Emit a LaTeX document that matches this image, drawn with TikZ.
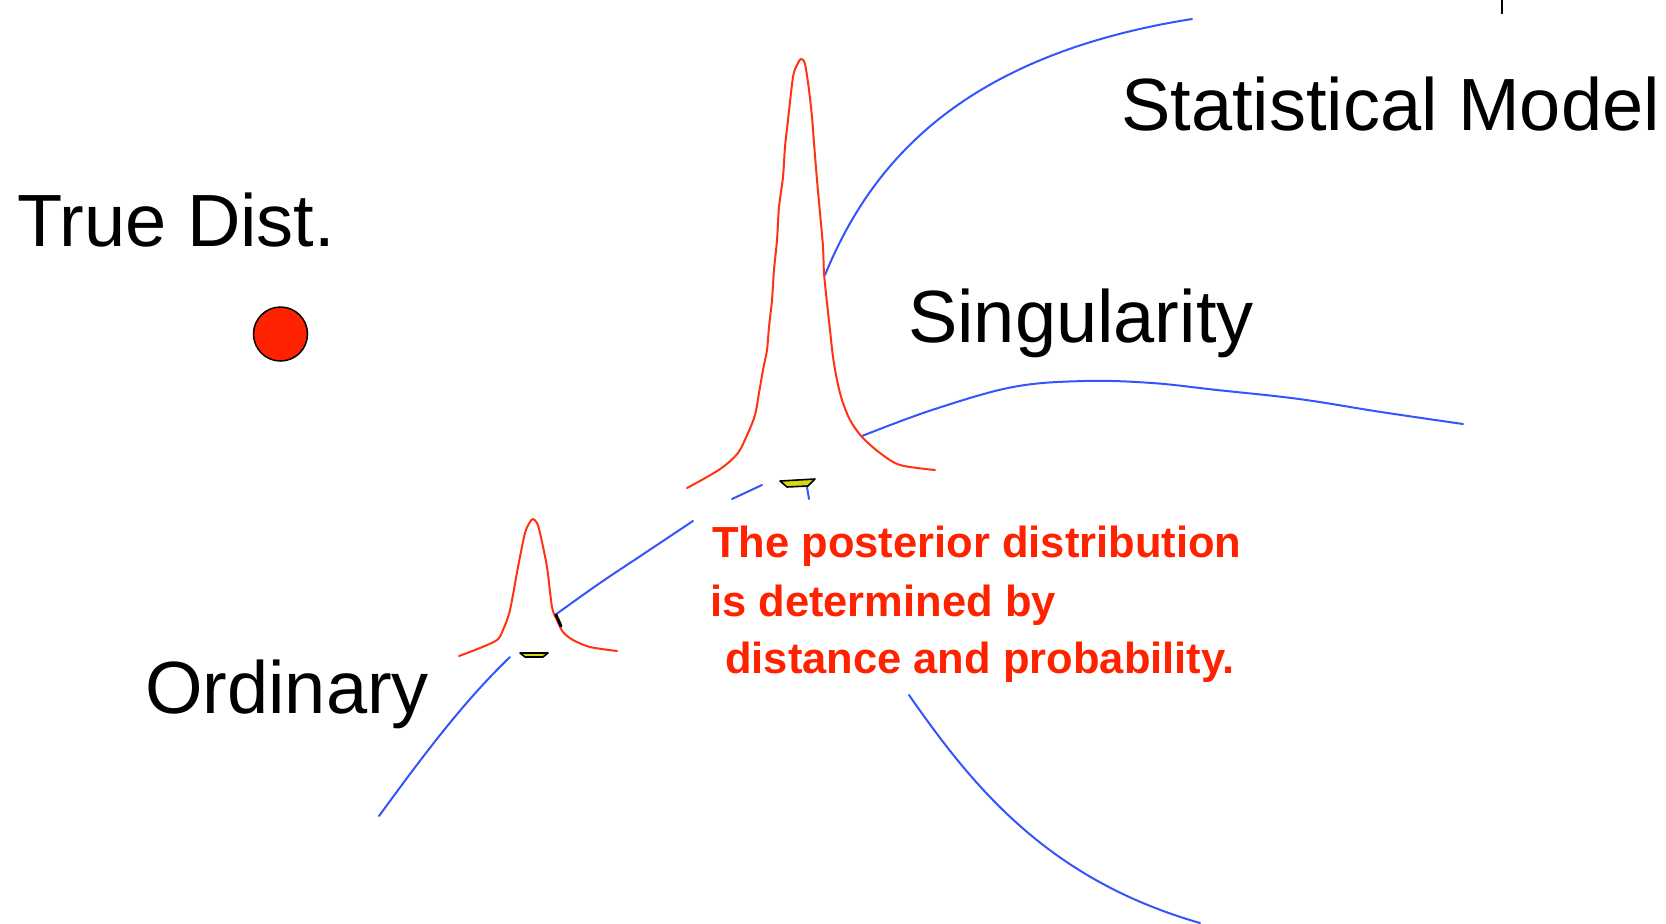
\documentclass[tikz,border=0pt]{standalone}
\usepackage{fontspec}
\setmainfont{Liberation Sans}
\definecolor{cblue}{RGB}{51,85,255}
\definecolor{cred}{RGB}{255,51,17}
\definecolor{tred}{RGB}{255,34,0}
\definecolor{cyel}{RGB}{214,214,20}
\begin{document}
\begin{tikzpicture}[x=1pt,y=-1pt,
  bluecurve/.style={draw=cblue, line width=2pt, line cap=round, line join=round},
  redcurve/.style={draw=cred, line width=2pt, line cap=round, line join=round},
  biglabel/.style={font=\fontsize{74}{88}\selectfont, anchor=base west, inner sep=0pt},
  redtext/.style={font=\fontsize{43.5}{58}\selectfont\bfseries, text=tred, anchor=base west, inner sep=0pt},
  bowl/.style={fill=cyel, draw=black, line width=1.6pt, line join=round}]
\useasboundingbox (0,0) rectangle (1666,924);

% tick at top
\draw[black, line width=2.5pt] (1502,0) -- (1502,14);

% labels
\node[biglabel] (sm) at (1121,130) {Statistical Model};
\node[biglabel] (td) at (17,246) {True Dist.};
\node[biglabel] (sing) at (908,342) {Singularity};
\node[biglabel] (ord) at (145,713) {Ordinary};

% true distribution dot
\node[circle, fill=tred, draw=black, line width=1.5pt, minimum size=54pt, inner sep=0pt] (dot) at (280.5,334) {};

% blue model curves
\coordinate (a0) at (825,275);
\coordinate (a1) at (1192,19);
\draw[bluecurve] (a0) .. controls (872,160) and (965,55) .. (a1);
\draw[bluecurve] plot[smooth, tension=0.6] coordinates {(862,436) (932,410) (1013,387) (1085,381) (1152,383) (1217,390) (1299,399) (1381,412) (1463,424)};
\draw[bluecurve] plot[smooth, tension=0.6] coordinates {(555,615) (600,583) (645,553) (693,521)};
\draw[bluecurve] (732,499) -- (762,485);
\draw[bluecurve] (807,487) -- (809,499);
\coordinate (b0) at (510,657);
\coordinate (b1) at (379,816);
\draw[bluecurve] (b0) .. controls (462,703) and (420,760) .. (b1);
\coordinate (c0) at (909,695);
\coordinate (c1) at (1200,923);
\draw[bluecurve] (c0) .. controls (975,790) and (1050,880) .. (c1);

% big posterior peak
\draw[redcurve] plot[smooth, tension=0.5] coordinates {(687,488) (707,477) (723,467) (738,453) (748,433) (755,415) (759,393) (763,370) (767,350) (769,327) (772,300) (774,270) (777,240) (779,207) (783,177) (785,147) (788,120) (793,77) (797,65) (801,59) (805,64) (809,90) (812,117) (814,143) (817,180) (820,213) (823,247) (824,273) (827,303) (830,330) (833,357) (837,380) (842,400) (850,420) (862,437) (880,453) (900,465) (935,470)};

% small posterior peak
\draw[redcurve] plot[smooth, tension=0.5] coordinates {(459,656) (480,648) (497,640) (503,630) (510,610) (518,567) (525,533) (530,522) (533,519) (537,523) (540,533) (547,567) (552,607) (557,620) (563,632) (573,640) (590,647) (617,651)};
\draw[black, line width=3pt, line cap=round] (556,615) -- (561,626);

% yellow marks
\filldraw[bowl] (780,481) -- (815,479) -- (808,486) -- (787,487) -- cycle;
\filldraw[bowl] (520,653) -- (548,653) -- (543,657) -- (525,657) -- cycle;

% red explanation
\node[redtext] (p1) at (712,557) {The posterior distribution};
\node[redtext] (p2) at (710,616) {is determined by};
\node[redtext] (p3) at (725,673) {distance and probability.};
\end{tikzpicture}
\end{document}
